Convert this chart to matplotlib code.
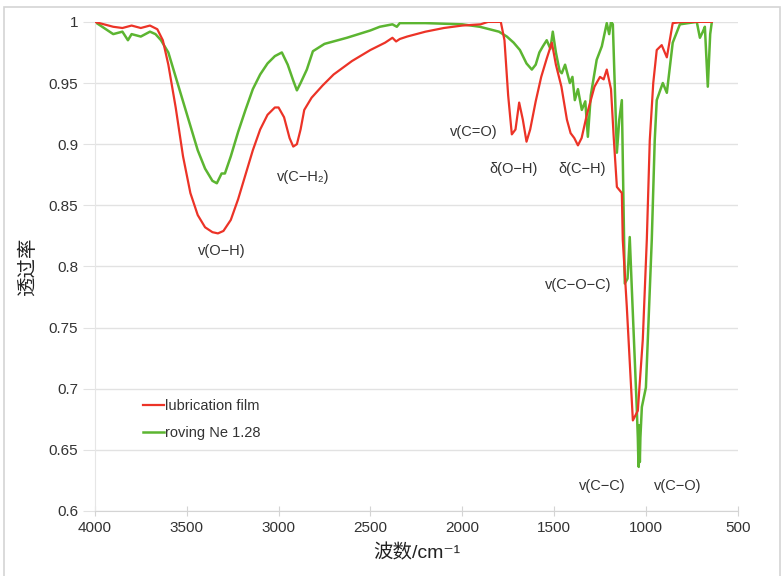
import matplotlib
matplotlib.use("Agg")
import matplotlib.pyplot as plt
from matplotlib.patches import Rectangle

plt.rcParams['font.family'] = ['Liberation Sans', 'Noto Sans CJK SC', 'DejaVu Sans']

# red curve: lubrication film (wavenumber, transmittance)
film_wn = [4000, 3950, 3900, 3850, 3800, 3750, 3700, 3660, 3630, 3600, 3560, 3520, 3480,
           3440, 3400, 3360, 3330, 3300, 3260, 3220, 3180, 3140, 3100, 3060, 3020, 3000,
           2970, 2940, 2920, 2900, 2880, 2860, 2820, 2760, 2700, 2600, 2500, 2420, 2380,
           2360, 2340, 2300, 2200, 2100, 2000, 1900, 1860, 1790, 1770, 1750, 1730, 1710,
           1690, 1670, 1650, 1630, 1600, 1570, 1540, 1512, 1490, 1460, 1430, 1410, 1390,
           1370, 1350, 1320, 1280, 1250, 1230, 1213, 1190, 1175, 1158, 1131, 1126, 1104,
           1071, 1044, 1017, 995, 979, 960, 941, 914, 886, 854, 800, 700, 641]
film_t = [1.000, 0.998, 0.996, 0.995, 0.997, 0.995, 0.997, 0.994, 0.985, 0.965, 0.930, 0.890, 0.860,
          0.842, 0.832, 0.828, 0.827, 0.829, 0.838, 0.855, 0.875, 0.895, 0.912, 0.924, 0.930, 0.930,
          0.922, 0.905, 0.898, 0.900, 0.912, 0.928, 0.938, 0.948, 0.957, 0.968, 0.977, 0.983, 0.987,
          0.984, 0.986, 0.988, 0.992, 0.995, 0.997, 0.998, 1.000, 1.000, 0.985, 0.940, 0.908, 0.912,
          0.934, 0.920, 0.902, 0.912, 0.935, 0.955, 0.970, 0.983, 0.965, 0.947, 0.920, 0.909, 0.905,
          0.899, 0.905, 0.925, 0.947, 0.955, 0.953, 0.961, 0.945, 0.905, 0.865, 0.860, 0.822, 0.767,
          0.674, 0.682, 0.740, 0.822, 0.903, 0.950, 0.977, 0.981, 0.971, 0.999, 1.000, 1.000, 1.000]

# green curve: roving Ne 1.28
roving_wn = [4000, 3950, 3900, 3850, 3820, 3800, 3750, 3700, 3670, 3640, 3600, 3560, 3520,
             3480, 3440, 3400, 3360, 3336, 3310, 3292, 3260, 3220, 3180, 3140, 3100, 3060,
             3020, 2982, 2950, 2920, 2900, 2880, 2846, 2813, 2750, 2628, 2500, 2449, 2380,
             2356, 2340, 2200, 2000, 1904, 1800, 1757, 1720, 1686, 1650, 1621, 1600, 1580,
             1561, 1540, 1520, 1507, 1490, 1470, 1458, 1440, 1414, 1400, 1387, 1370, 1349,
             1330, 1316, 1300, 1268, 1240, 1213, 1200, 1190, 1180, 1170, 1158, 1145, 1131,
             1115, 1100, 1088, 1077, 1050, 1044, 1041, 1039, 1036, 1033, 1030, 1022, 1000,
             968, 952, 941, 920, 908, 886, 854, 815, 723, 706, 690, 679, 663, 650, 641]
roving_t = [1.000, 0.995, 0.990, 0.992, 0.985, 0.990, 0.988, 0.992, 0.990, 0.985, 0.975, 0.955, 0.935,
            0.915, 0.895, 0.880, 0.870, 0.868, 0.876, 0.876, 0.890, 0.910, 0.928, 0.945, 0.957, 0.966,
            0.972, 0.975, 0.965, 0.952, 0.944, 0.950, 0.961, 0.976, 0.982, 0.987, 0.993, 0.996, 0.998,
            0.996, 0.999, 0.999, 0.998, 0.996, 0.992, 0.988, 0.983, 0.977, 0.966, 0.961, 0.965, 0.975,
            0.980, 0.985, 0.978, 0.992, 0.975, 0.960, 0.958, 0.965, 0.950, 0.955, 0.936, 0.945, 0.928,
            0.935, 0.906, 0.940, 0.969, 0.980, 0.999, 0.990, 1.000, 0.998, 0.950, 0.893, 0.920, 0.936,
            0.786, 0.790, 0.824, 0.783, 0.685, 0.660, 0.640, 0.636, 0.670, 0.640, 0.660, 0.685, 0.701,
            0.822, 0.903, 0.936, 0.945, 0.950, 0.942, 0.983, 0.998, 1.000, 0.987, 0.992, 0.996, 0.947, 0.990, 1.000]

# band labels: (text, wavenumber, transmittance)
band_text = ['v(O−H)', 'v(C−H₂)', 'v(C=O)', 'δ(O−H)', 'δ(C−H)', 'v(C−O−C)', 'v(C−C)', 'v(C−O)']
band_wn = [3309, 2868, 1937, 1719, 1349, 1371, 1240, 826]
band_t = [0.813, 0.873, 0.910, 0.880, 0.880, 0.785, 0.620, 0.620]

fig = plt.figure(figsize=(7.84, 5.76), dpi=100)
ax = fig.add_axes([0.121, 0.113, 0.82, 0.849])

# outer frame
fig.patches.append(Rectangle((0.005, -0.01), 0.99, 0.998, transform=fig.transFigure,
                             fill=False, edgecolor='#d4d4d4', linewidth=1.2))

ax.plot(film_wn, film_t, color='#ec3327', lw=1.6, label='lubrication film', zorder=3)
ax.plot(roving_wn, roving_t, color='#5cb531', lw=1.8, label='roving Ne 1.28', zorder=2)

for txt, x, y in zip(band_text, band_wn, band_t):
    ax.text(x, y, txt, ha='center', va='center', fontsize=10.5, color='#333333')

ax.set_xlim(4000, 500)
ax.set_ylim(0.6, 1.0)
ax.set_xticks(range(4000, 499, -500))
ax.set_yticks([0.6, 0.65, 0.7, 0.75, 0.8, 0.85, 0.9, 0.95, 1.0])
ax.set_yticklabels(['0.6', '0.65', '0.7', '0.75', '0.8', '0.85', '0.9', '0.95', '1'])
ax.yaxis.grid(True, color='#e2e2e2', lw=1)
ax.set_axisbelow(True)

for s in ['top', 'right']:
    ax.spines[s].set_visible(False)
ax.spines['left'].set_color('#e6e6e6')
ax.spines['bottom'].set_color('#d4d4d4')
ax.tick_params(axis='x', direction='inout', length=7, color='#d4d4d4', labelsize=11,
               labelcolor='#333333', pad=4)
ax.tick_params(axis='y', direction='out', length=9, color='#e2e2e2', labelsize=11,
               labelcolor='#333333', pad=3)

ax.set_xlabel('波数/cm⁻¹', fontsize=14, color='#222222', labelpad=6)
ax.set_ylabel('透过率', fontsize=14, color='#222222', labelpad=8)

ax.legend(loc='upper left', bbox_to_anchor=(0.055, 0.255), frameon=False, fontsize=10.5,
          handlelength=1.4, handletextpad=0.1, labelspacing=0.9, labelcolor='#333333')

fig.savefig('out.png', dpi=100)
